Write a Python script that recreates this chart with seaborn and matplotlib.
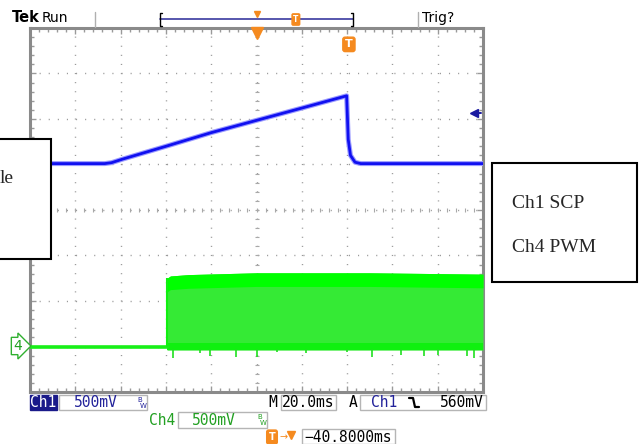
import numpy as np
import pandas as pd
import matplotlib
matplotlib.use("Agg")
import matplotlib.pyplot as plt
from matplotlib.patches import Rectangle
from matplotlib.lines import Line2D
from matplotlib.ticker import MultipleLocator
import seaborn as sns

# Oscilloscope capture
# time in ms across the screen (20 ms/div, 10 div), voltage in divisions (8 div)
ch1_t = [0, 33, 36, 41, 60, 80, 100, 120, 139.8, 140.5, 141.5, 143.5, 146, 150, 200]
ch1_v = [1.02, 1.02, 1.04, 1.12, 1.40, 1.70, 1.97, 2.24, 2.51, 1.55, 1.20, 1.05, 1.02, 1.02, 1.02]

ch4_base_t = [0, 60.5]
ch4_base_v = [-3.01, -3.01]
pwm_t = [60.5, 62, 70, 100, 150, 200]
pwm_top = [-1.50, -1.45, -1.42, -1.38, -1.38, -1.41]
pwm_bottom = [-3.08, -3.08, -3.08, -3.08, -3.08, -3.08]
spike_t = [63, 75, 79.5, 91, 100, 109, 122, 140, 151, 164, 174, 180, 193, 196]
spike_v = [-3.25, -3.15, -3.2, -3.22, -3.22, -3.12, -3.15, -3.12, -3.22, -3.18, -3.2, -3.18, -3.2, -3.25]

ch1_scale = "500mV"
ch4_scale = "500mV"
timebase = "20.0ms"
trig_level_mv = 560
trig_pos_ms = -40.8
volts_per_div_mv = 500

W, H = 640, 444
def fx(x):
    return x / W
def fy(y):
    return 1 - y / H

sns.set_theme(style="white")
plt.rcParams["font.family"] = ["DejaVu Sans"]

fig = plt.figure(figsize=(6.4, 4.44), dpi=100)
fig.patch.set_facecolor("white")
ax = fig.add_axes([fx(30), fy(392), (483 - 30) / W, (392 - 28) / H])
ax.set_facecolor("white")
ax.set_xlim(0, 200)
ax.set_ylim(-4, 4)

# graticule
grat = "#9a9a9a"
ax.xaxis.set_major_locator(MultipleLocator(20))
ax.yaxis.set_major_locator(MultipleLocator(1))
ax.xaxis.set_minor_locator(MultipleLocator(4))
ax.yaxis.set_minor_locator(MultipleLocator(0.2))
ax.grid(True, which="major", color=grat, linewidth=1.0, linestyle=(0, (0.8, 5.75)))
ax.tick_params(which="both", direction="in", top=True, right=True, bottom=True, left=True,
               labelbottom=False, labelleft=False, color=grat)
ax.tick_params(which="major", length=4, width=1)
ax.tick_params(which="minor", length=3, width=1)
for s in ax.spines.values():
    s.set_color("#8a8a8a")
    s.set_linewidth(2.2)

# centre cross tick marks
ax.plot(np.arange(0, 200.1, 4), np.zeros(51), ls="none", marker="|", ms=3, color="#a8a8a8", mew=0.8)
ax.plot(np.full(41, 100.0), np.arange(-4, 4.01, 0.2), ls="none", marker="_", ms=3, color="#a8a8a8", mew=0.8)

# Ch4 PWM
green = "#18f018"
ax.fill_between(pwm_t, pwm_bottom, pwm_top, color="#35ea35", lw=0, zorder=3)
ax.fill_between(pwm_t, np.array(pwm_top) - 0.3, pwm_top, color="#00ff00", lw=0, zorder=3)
ax.fill_between(pwm_t, pwm_bottom, np.array(pwm_bottom) + 0.15, color="#10f010", lw=0, zorder=3)
ax.vlines(spike_t, -3.05, spike_v, color="#20e020", lw=1.2, zorder=3)
df4 = pd.DataFrame({"t": ch4_base_t, "v": ch4_base_v})
sns.lineplot(data=df4, x="t", y="v", ax=ax, color=green, lw=2.6, zorder=4)
ax.vlines([pwm_t[0]], ch4_base_v[-1], pwm_top[0], color="#10f010", lw=1.5, zorder=4)

# Ch1 SCP
df1 = pd.DataFrame({"t": ch1_t, "v": ch1_v})
sns.lineplot(data=df1, x="t", y="v", ax=ax, color="#9a9aff", lw=3.6, sort=False, estimator=None, zorder=5)
sns.lineplot(data=df1, x="t", y="v", ax=ax, color="#1010f0", lw=2.0, sort=False, estimator=None, zorder=6)
ax.set_xlabel("")
ax.set_ylabel("")

# trigger level arrow (Ch1)
trig_div = ch1_v[0] + trig_level_mv / volts_per_div_mv
tr = ax.get_yaxis_transform()
ax.plot([0.981], [trig_div], transform=tr, marker="<", ms=6, color="#1a1aa0", clip_on=False, zorder=7)
ax.plot([0.981, 0.996], [trig_div, trig_div], transform=tr, color="#1a1aa0", lw=1.4, clip_on=False, zorder=7)

orange = "#f58a1f"
trig_t = 100 - trig_pos_ms
xt = ax.get_xaxis_transform()
ax.plot([100], [0.985], transform=xt, marker="v", ms=8, color=orange, clip_on=False, zorder=8)
ax.text(trig_t, 0.955, "T", transform=xt, ha="center", va="center", color="white", fontsize=8,
        fontweight="bold", bbox=dict(boxstyle="round,pad=0.2", fc=orange, ec=orange), zorder=8)

# Ch4 ground marker
fig.text(fx(13), fy(346), "4", ha="left", va="center", color="#20a020", fontsize=10,
         bbox=dict(boxstyle="rarrow,pad=0.12", fc="white", ec="#30b030", lw=1))

# header
fig.text(fx(12), fy(18), "Tek", ha="left", va="center", fontsize=10.5, fontweight="bold", color="black")
fig.text(fx(42), fy(18), "Run", ha="left", va="center", fontsize=10, color="black")
fig.text(fx(422), fy(18), "Trig?", ha="left", va="center", fontsize=10, color="black")
for xs in (95, 418):
    fig.add_artist(Line2D([fx(xs), fx(xs)], [fy(12), fy(27)], color="#b0b0b0", lw=1))
fig.add_artist(Line2D([fx(160), fx(353)], [fy(19.5), fy(19.5)], color="#3a3aa0", lw=1.2))
fig.add_artist(Line2D([fx(162), fx(160), fx(160), fx(162)], [fy(13), fy(13), fy(26), fy(26)], color="black", lw=1))
fig.add_artist(Line2D([fx(351), fx(353), fx(353), fx(351)], [fy(13), fy(13), fy(26), fy(26)], color="black", lw=1))
fig.add_artist(Line2D([fx(257)], [fy(14)], marker="v", ms=4.5, color=orange, ls="none"))
fig.text(fx(160 + 193 * trig_t / 200), fy(19.5), "T", ha="center", va="center", fontsize=5.5, color="white",
         fontweight="bold", bbox=dict(boxstyle="round,pad=0.15", fc=orange, ec=orange))

# readouts
mono = "DejaVu Sans Mono"
blue = "#22229a"
gtxt = "#22a022"
box = "#b5b5b5"
def rect(x0, y0, x1, y1, **kw):
    kw.setdefault("fill", False)
    kw.setdefault("ec", box)
    kw.setdefault("lw", 1)
    fig.add_artist(Rectangle((fx(x0), fy(y1)), (x1 - x0) / W, (y1 - y0) / H,
                             transform=fig.transFigure, **kw))
def bw(x, y, c):
    fig.text(fx(x), fy(y - 3), "B", fontsize=5, color=c, ha="left", va="center")
    fig.text(fx(x + 3), fy(y + 3), "W", fontsize=5, color=c, ha="left", va="center")

r1, r2, r3 = 402.5, 420, 437
rect(29.5, 395, 56.5, 410, fill=True, fc="#1a1a8a", ec="#1a1a8a")
fig.text(fx(43), fy(r1), "Ch1", ha="center", va="center", color="white", fontsize=10.5, family=mono)
rect(58.5, 395, 147, 410)
fig.text(fx(74), fy(r1), ch1_scale, ha="left", va="center", color=blue, fontsize=10.5, family=mono)
bw(137, r1, blue)
fig.text(fx(268), fy(r1), "M", ha="left", va="center", color="black", fontsize=10.5, family=mono)
rect(281, 395, 336, 410)
fig.text(fx(308.5), fy(r1), timebase, ha="center", va="center", color="black", fontsize=10.5, family=mono)
fig.text(fx(349), fy(r1), "A", ha="left", va="center", color="black", fontsize=10.5, family=mono)
rect(360, 395, 486, 410)
fig.text(fx(371), fy(r1), "Ch1", ha="left", va="center", color=blue, fontsize=10.5, family=mono)
fig.add_artist(Line2D([fx(409), fx(413), fx(415), fx(419)], [fy(398), fy(398), fy(407), fy(407)],
                      color="black", lw=1.6))
fig.text(fx(484), fy(r1), f"{trig_level_mv}mV", ha="right", va="center", color="black", fontsize=10.5, family=mono)

fig.text(fx(149), fy(r2), "Ch4", ha="left", va="center", color=gtxt, fontsize=10.5, family=mono)
rect(178, 412, 267, 428)
fig.text(fx(192), fy(r2), ch4_scale, ha="left", va="center", color=gtxt, fontsize=10.5, family=mono)
bw(257, r2, gtxt)

fig.text(fx(272), fy(r3), "T", ha="center", va="center", fontsize=7, color="white", fontweight="bold",
         bbox=dict(boxstyle="round,pad=0.2", fc=orange, ec=orange))
fig.text(fx(279), fy(r3), "\u2192", ha="left", va="center", fontsize=7, color=orange)
fig.add_artist(Line2D([fx(291)], [fy(r3 - 2)], marker="v", ms=5.5, color=orange, ls="none"))
rect(302, 429, 395, 444)
fig.text(fx(348.5), fy(r3), f"{trig_pos_ms:.4f}ms".replace("-", "\u2212"), ha="center", va="center",
         color="black", fontsize=10.5, family=mono)

# annotation boxes pasted over the capture
rect(-2, 139, 51, 259, fill=True, fc="white", ec="black", lw=1.5, zorder=10)
fig.text(fx(-0.5), fy(178), "le", ha="left", va="center", fontsize=14, family="Liberation Serif", zorder=11)
rect(492, 163, 637, 282, fill=True, fc="white", ec="black", lw=1.5, zorder=10)
fig.text(fx(512), fy(203), "Ch1 SCP", ha="left", va="center", fontsize=14, family="Liberation Serif", zorder=11)
fig.text(fx(512), fy(248), "Ch4 PWM", ha="left", va="center", fontsize=14, family="Liberation Serif", zorder=11)

fig.savefig("out.png", dpi=100)
